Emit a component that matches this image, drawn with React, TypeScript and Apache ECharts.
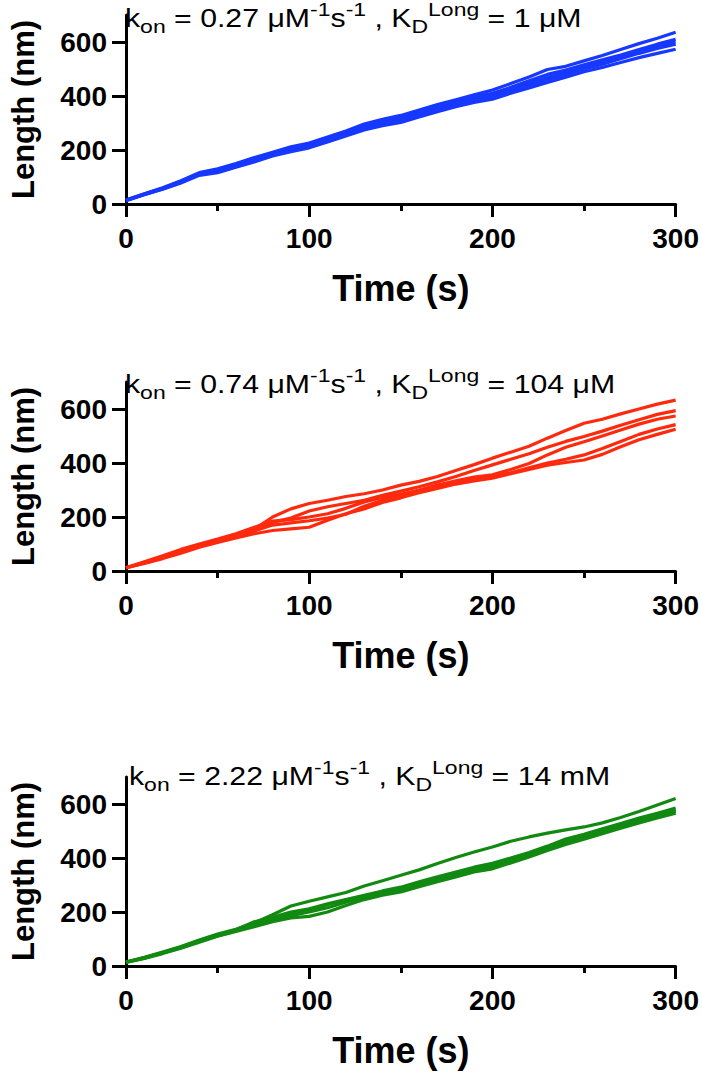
import React, { useEffect, useRef } from "react";
import * as echarts from "echarts";

const TIME = [0, 10, 20, 30, 40, 50, 60, 70, 80, 90, 100, 110, 120, 130, 140, 150, 160, 170, 180, 190, 200, 210, 220, 230, 240, 250, 260, 270, 280, 290, 300];

const Y_TICKS = [0, 200, 400, 600];
const X_LABELS = [0, 100, 200, 300];

const BLUE_1 = [15, 38, 60, 86, 116, 130, 150, 172, 192, 212, 226, 248, 270, 296, 314, 328, 348, 368, 386, 404, 422, 446, 470, 498, 510, 530, 550, 572, 594, 614, 636];
const BLUE_2 = [15, 37, 58, 84, 114, 126, 146, 168, 188, 206, 222, 244, 266, 290, 306, 320, 340, 360, 380, 396, 410, 432, 456, 480, 496, 516, 534, 552, 572, 592, 610];
const BLUE_3 = [14, 36, 57, 82, 112, 122, 142, 164, 186, 202, 218, 240, 262, 284, 300, 314, 334, 354, 372, 390, 402, 424, 446, 468, 488, 508, 526, 546, 566, 584, 601];
const BLUE_4 = [13, 35, 56, 80, 110, 119, 139, 160, 182, 198, 214, 236, 258, 280, 296, 308, 328, 348, 366, 384, 396, 418, 440, 460, 480, 500, 518, 538, 558, 576, 592];
const BLUE_5 = [12, 34, 55, 78, 106, 116, 136, 156, 178, 194, 208, 230, 252, 274, 290, 302, 322, 342, 360, 376, 388, 410, 430, 450, 470, 490, 506, 524, 542, 558, 573];

const RED_1 = [12, 30, 48, 72, 92, 112, 132, 155, 200, 230, 250, 262, 276, 286, 300, 318, 332, 350, 372, 394, 418, 440, 462, 492, 520, 547, 562, 582, 600, 618, 633];
const RED_2 = [12, 32, 52, 74, 96, 116, 136, 158, 180, 196, 222, 238, 250, 262, 280, 296, 312, 330, 350, 372, 393, 414, 434, 458, 480, 498, 518, 540, 560, 580, 594];
const RED_3 = [12, 34, 56, 80, 100, 118, 138, 162, 185, 190, 200, 212, 232, 256, 272, 284, 300, 318, 334, 348, 356, 376, 398, 430, 458, 479, 500, 522, 544, 562, 574];
const RED_4 = [12, 30, 50, 70, 90, 110, 128, 148, 170, 178, 186, 196, 210, 240, 262, 278, 294, 310, 326, 340, 350, 364, 382, 400, 414, 430, 454, 480, 506, 526, 542];
const RED_5 = [12, 28, 46, 66, 88, 106, 122, 138, 150, 156, 162, 188, 212, 230, 254, 271, 290, 306, 322, 334, 344, 360, 376, 392, 402, 411, 432, 460, 486, 506, 525];

const GREEN_1 = [15, 32, 52, 72, 96, 118, 136, 160, 190, 222, 240, 256, 272, 296, 316, 336, 356, 380, 402, 422, 441, 462, 478, 492, 504, 515, 530, 550, 572, 596, 620];
const GREEN_2 = [15, 30, 50, 70, 94, 116, 134, 164, 180, 200, 212, 230, 246, 262, 278, 292, 312, 330, 348, 366, 380, 400, 420, 444, 470, 488, 508, 528, 548, 566, 585];
const GREEN_3 = [14, 30, 48, 70, 92, 114, 132, 160, 176, 194, 205, 228, 244, 258, 272, 285, 306, 322, 342, 360, 374, 394, 416, 440, 464, 482, 502, 522, 542, 560, 579];
const GREEN_4 = [14, 29, 48, 68, 90, 112, 130, 152, 170, 186, 200, 216, 236, 254, 268, 280, 300, 318, 336, 354, 368, 390, 410, 432, 456, 476, 496, 516, 536, 554, 572];
const GREEN_5 = [13, 28, 46, 66, 88, 110, 128, 146, 164, 178, 184, 200, 224, 246, 262, 274, 294, 312, 330, 348, 360, 382, 404, 428, 450, 470, 490, 510, 530, 548, 566];

const PANELS = [
  { color: "#1638ff", traces: [BLUE_1, BLUE_2, BLUE_3, BLUE_4, BLUE_5], kon: "0.27", kd: "1 μM" },
  { color: "#ff2a0e", traces: [RED_1, RED_2, RED_3, RED_4, RED_5], kon: "0.74", kd: "104 μM" },
  { color: "#128a12", traces: [GREEN_1, GREEN_2, GREEN_3, GREEN_4, GREEN_5], kon: "2.22", kd: "14 mM" },
];

const GRID_TOPS = [15, 382, 777];
const TITLE_X = [125, 125, 129];
const TITLE_Y = [18, 384, 776];

const FONT = "'Liberation Sans', Arial, sans-serif";

export default function App() {
  const ref = useRef<HTMLDivElement>(null);
  useEffect(() => {
    if (!ref.current) return;
    const chart = echarts.init(ref.current, undefined, { renderer: "svg" });
    const grid: any[] = [];
    const xAxis: any[] = [];
    const yAxis: any[] = [];
    const series: any[] = [];
    const graphic: any[] = [];
    PANELS.forEach((p, gi) => {
      grid.push({ left: 113, width: 566, top: GRID_TOPS[gi], height: 189 });
      xAxis.push({
        type: "value",
        gridIndex: gi,
        min: 0,
        max: 300,
        interval: 100,
        axisLine: { show: true, onZero: false, lineStyle: { color: "#000", width: 3 } },
        axisTick: { show: true, length: 13, lineStyle: { color: "#000", width: 3 } },
        minorTick: { show: true, splitNumber: 2, length: 7, lineStyle: { color: "#000", width: 3 } },
        splitLine: { show: false },
        minorSplitLine: { show: false },
        axisLabel: {
          customValues: X_LABELS,
          fontSize: 28,
          fontWeight: "bold",
          color: "#000",
          fontFamily: FONT,
          margin: 20,
        },
        name: "Time (s)",
        nameLocation: "middle",
        nameGap: 66,
        nameTextStyle: { fontSize: 36, fontWeight: "bold", color: "#000", fontFamily: FONT },
      });
      yAxis.push({
        type: "value",
        gridIndex: gi,
        min: 0,
        max: 700,
        axisLine: { show: true, onZero: false, lineStyle: { color: "#000", width: 3 } },
        axisTick: { show: true, customValues: Y_TICKS, length: 14, lineStyle: { color: "#000", width: 3 } },
        splitLine: { show: false },
        axisLabel: {
          customValues: Y_TICKS,
          fontSize: 28,
          fontWeight: "bold",
          color: "#000",
          fontFamily: FONT,
          margin: 19,
        },
        name: "Length (nm)",
        nameLocation: "middle",
        nameRotate: 90,
        nameGap: 87,
        nameTextStyle: { fontSize: 31, fontWeight: "bold", color: "#000", fontFamily: FONT },
      });
      p.traces.forEach((tr) => {
        series.push({
          type: "line",
          xAxisIndex: gi,
          yAxisIndex: gi,
          showSymbol: false,
          symbol: "none",
          data: TIME.map((t, i) => [t, tr[i]]),
          lineStyle: { color: p.color, width: 3.2, join: "round" },
          itemStyle: { color: p.color },
          silent: true,
        });
      });
      graphic.push({
        type: "text",
        x: TITLE_X[gi],
        y: TITLE_Y[gi],
        scaleX: 1.21,
        style: {
          text: `{m|k}{sub|on}{m| = ${p.kon} μM}{sup|-1}{m|s}{sup|-1}{m| , K}{sub|D}{sup|Long}{m| = ${p.kd}}`,
          fill: "#000",
          verticalAlign: "middle",
          align: "left",
          rich: {
            m: { fontSize: 25, fontFamily: FONT, lineHeight: 36, verticalAlign: "middle", fill: "#000" },
            sub: { fontSize: 19, fontFamily: FONT, verticalAlign: "bottom", fill: "#000" },
            sup: { fontSize: 19, fontFamily: FONT, verticalAlign: "top", fill: "#000" },
          },
        },
      });
    });
    chart.setOption({
      animation: false,
      backgroundColor: "#fff",
      grid,
      xAxis,
      yAxis,
      series,
      graphic,
    });
    return () => chart.dispose();
  }, []);
  return (
    <div
      ref={ref}
      style={{ position: "absolute", left: 0, top: 0, width: 702, height: 1073 }}
    />
  );
}
